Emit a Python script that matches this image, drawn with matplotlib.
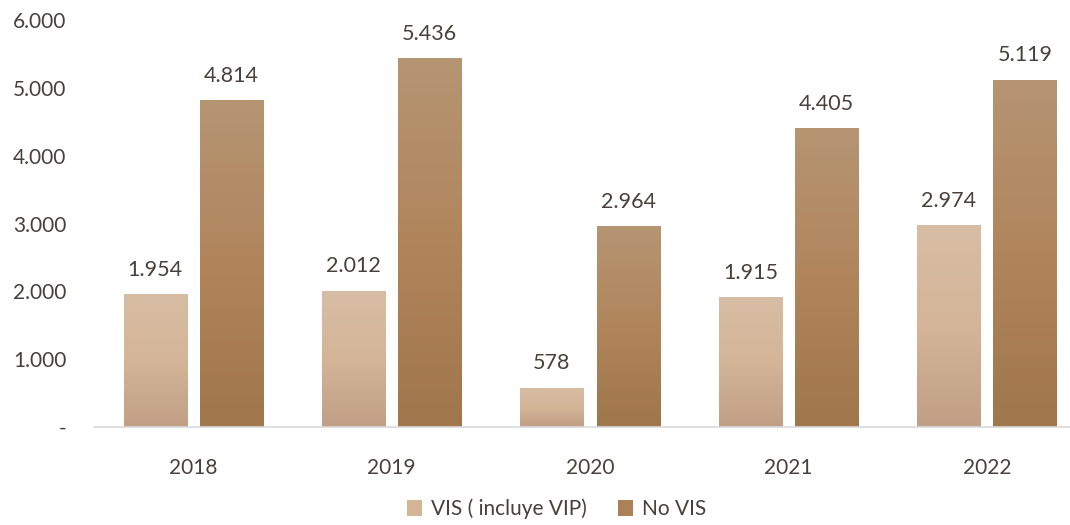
import matplotlib
matplotlib.use("Agg")
import matplotlib.pyplot as plt
import numpy as np
from matplotlib.colors import LinearSegmentedColormap
from matplotlib.patches import Patch
from matplotlib.ticker import FuncFormatter

years = ["2018", "2019", "2020", "2021", "2022"]
vis = [1954, 2012, 578, 1915, 2974]
no_vis = [4814, 5436, 2964, 4405, 5119]
series_names = ["VIS ( incluye VIP)", "No VIS"]

text_color = "#4a403b"
light_cmap = LinearSegmentedColormap.from_list("light", ["#C09F86", "#D4B598", "#D7BDA4"])
dark_cmap = LinearSegmentedColormap.from_list("dark", ["#A0764D", "#B0855C", "#B69573"])

plt.rcParams["font.family"] = ["Lato", "DejaVu Sans"]

fig = plt.figure(figsize=(10.7, 5.25), dpi=100)
ax = fig.add_axes([94 / 1070, 1 - 427 / 525, 976 / 1070, 407 / 525])

x = np.arange(len(years))
w = 0.318
off = 0.192

def grad_bars(xs, vals, cmap):
    bars = ax.bar(xs, vals, w, color="none", linewidth=0)
    grad = np.linspace(0, 1, 256).reshape(-1, 1)
    for b in bars:
        im = ax.imshow(grad, cmap=cmap, origin="lower", aspect="auto",
                       extent=[b.get_x(), b.get_x() + b.get_width(), 0, b.get_height()],
                       zorder=2)
        im.set_clip_path(b)
    return bars

b1 = grad_bars(x - off, vis, light_cmap)
b2 = grad_bars(x + off, no_vis, dark_cmap)

fmt = lambda v: f"{v:,}".replace(",", ".")
for xs, vals in [(x - off, vis), (x + off, no_vis)]:
    for xi, v in zip(xs, vals):
        ax.text(xi, v + 360, fmt(v), ha="center", va="center", fontsize=15.5, color=text_color)

ax.set_xlim(-0.5, 4.5 - 16 / 198)
ax.set_ylim(0, 6000)
ax.set_yticks(range(0, 6001, 1000))
ax.yaxis.set_major_formatter(FuncFormatter(lambda v, p: "-" if v == 0 else fmt(int(v))))
ax.set_xticks(x)
ax.set_xticklabels(years)
ax.tick_params(axis="both", length=0, labelsize=15, labelcolor=text_color)
ax.tick_params(axis="y", pad=20)
ax.tick_params(axis="x", pad=22)
for s in ["top", "right", "left"]:
    ax.spines[s].set_visible(False)
ax.spines["bottom"].set_color("#D9D9D9")
ax.spines["bottom"].set_linewidth(1.2)

handles = [Patch(facecolor="#D4B598"), Patch(facecolor="#AC8158")]
fig.legend(handles, series_names, loc="lower center", bbox_to_anchor=(0.52, -0.025),
           ncol=2, frameon=False, fontsize=15, labelcolor=text_color,
           handlelength=0.75, handleheight=0.75, handletextpad=0.4, columnspacing=1.5)

fig.savefig("out.png", dpi=100)
